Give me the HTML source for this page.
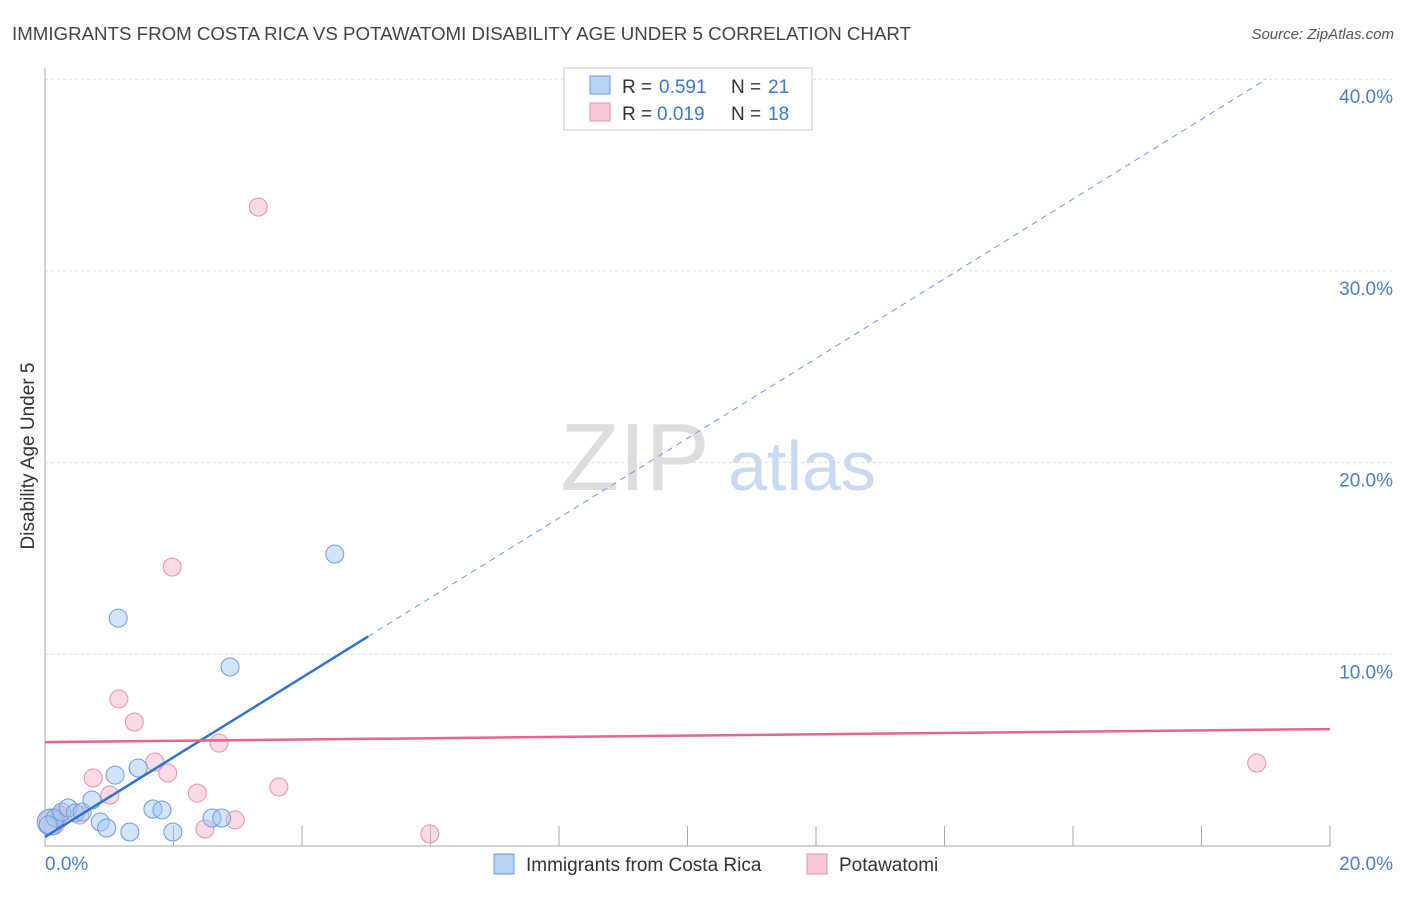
<!DOCTYPE html>
<html><head><meta charset="utf-8"><style>
body{margin:0;background:#fff;font-family:"Liberation Sans",sans-serif}
svg text{font-family:"Liberation Sans",sans-serif}
</style></head><body>
<svg id="c" width="1406" height="892">
<text x="12" y="40" font-size="18" fill="#444" textLength="899" lengthAdjust="spacingAndGlyphs">IMMIGRANTS FROM COSTA RICA VS POTAWATOMI DISABILITY AGE UNDER 5 CORRELATION CHART</text>
<text x="1394" y="39" font-size="15" fill="#555" font-style="italic" text-anchor="end">Source: ZipAtlas.com</text>
<text x="635" y="490" font-size="96" fill="#ddd" font-family="Liberation Serif,serif" text-anchor="middle">ZIP</text>
<text x="802" y="490" font-size="70" fill="#c9daf2" text-anchor="middle">atlas</text>
<text transform="translate(34,456) rotate(-90)" font-size="19" fill="#333" text-anchor="middle">Disability Age Under 5</text>
<g id="grid"></g><g id="marks"></g>
<g>
<rect x="564" y="68" width="248" height="62" fill="#fff" stroke="#ccc"/>
<rect x="590" y="76" width="20" height="18" fill="#b8d3f5" stroke="#6a9ee0"/>
<text y="93" font-size="19" fill="#333"><tspan x="622">R =</tspan><tspan x="659" fill="#3a78d4">0.591</tspan><tspan x="731">N =</tspan><tspan x="768" fill="#3a78d4">21</tspan></text>
<rect x="590" y="103" width="20" height="18" fill="#f9c8d6" stroke="#e890aa"/>
<text y="120" font-size="19" fill="#333"><tspan x="622">R =</tspan><tspan x="657" fill="#3a78d4">0.019</tspan><tspan x="731">N =</tspan><tspan x="768" fill="#3a78d4">18</tspan></text>
</g>
<g>
<rect x="494" y="854" width="20" height="20" fill="#b8d3f5" stroke="#6a9ee0"/>
<text x="526" y="871" font-size="19" fill="#333">Immigrants from Costa Rica</text>
<rect x="807" y="854" width="20" height="20" fill="#f9c8d6" stroke="#e890aa"/>
<text x="839" y="871" font-size="19" fill="#333">Potawatomi</text>
</g>
</svg>
<script>
const yTicks=[10,20,30,40];
const xTickLabels=["0.0%","20.0%"];
const blueX=[0.08,0.16,0.26,0.36,0.47,0.58,0.73,0.86,0.96,1.09,1.32,1.45,1.68,1.82,1.99,2.60,2.75,1.14,2.88,4.51,0.05];
const blueY=[1.25,1.46,1.77,1.98,1.72,1.77,2.40,1.25,0.94,3.70,0.73,4.07,1.93,1.88,0.73,1.46,1.46,11.89,9.34,15.23,1.10];
const pinkX=[0.11,0.23,0.54,0.75,1.01,1.15,1.39,1.71,1.91,1.98,2.37,2.49,2.71,2.96,3.32,3.64,5.99,18.86];
const pinkY=[1.25,1.62,1.62,3.55,2.66,7.67,6.47,4.38,3.81,14.55,2.76,0.89,5.37,1.36,33.33,3.08,0.63,4.33];
const blueFit=[0.47,2.08];
const pinkFit=[5.42,0.034];
const NS="http://www.w3.org/2000/svg";
const sx=v=>45+v*64.25, sy=v=>846-v*19.17;
function mk(t,a,p){const e=document.createElementNS(NS,t);for(const k in a)e.setAttribute(k,a[k]);p.appendChild(e);return e;}
const g=document.getElementById('grid'), m=document.getElementById('marks');
yTicks.forEach(t=>{
 const l=mk('line',{x1:45,x2:1394,y1:sy(t),y2:sy(t),stroke:'#ddd','stroke-dasharray':'3,3'},g);
 
 
 const tx=mk('text',{x:1393,y:sy(t)+24,'font-size':19,fill:'#4a7fd0','text-anchor':'end'},g);
 tx.textContent=t.toFixed(1)+'%';
 
 
});
mk('line',{x1:45,x2:45,y1:68,y2:846,stroke:'#aaa'},g);
mk('line',{x1:45,x2:1330,y1:846,y2:846,stroke:'#aaa'},g);
for(let i=1;i<=10;i++){const t=mk('line',{x1:sx(i*2),x2:sx(i*2),y1:826,y2:846,stroke:'#aaa'},g);
 
 }
xTickLabels.forEach((s,i)=>{const t=mk('text',{x:i?1393:45,y:870,'font-size':19,fill:'#4a7fd0','text-anchor':i?'end':'start'},g);t.textContent=s;
 
 });
pinkX.forEach((x,i)=>{const c=mk('circle',{cx:sx(x),cy:sy(pinkY[i]),r:i==0?13:9,fill:'rgba(245,175,198,0.45)',stroke:'#e890aa','stroke-width':1},m);
 
 });
blueX.forEach((x,i)=>{const c=mk('circle',{cx:sx(x),cy:sy(blueY[i]),r:i==0?13:9,fill:'rgba(160,196,240,0.45)',stroke:'#6a9ee0','stroke-width':1},m);
 
 });
const xe=5.03, yEnd=40.0, xd=(yEnd-blueFit[0])/blueFit[1];
const b1=mk('line',{x1:sx(0),y1:sy(blueFit[0]),x2:sx(xe),y2:sy(blueFit[0]+blueFit[1]*xe),stroke:'#2f72d6','stroke-width':2.5},m);


const b2=mk('line',{x1:sx(xe),y1:sy(blueFit[0]+blueFit[1]*xe),x2:sx(xd),y2:sy(yEnd),stroke:'#6a9ee0','stroke-width':1,'stroke-dasharray':'6,5'},m);


const p1=mk('line',{x1:sx(0),y1:sy(pinkFit[0]),x2:sx(20),y2:sy(pinkFit[0]+pinkFit[1]*20),stroke:'#e5678f','stroke-width':2.5},m);


</script>
</body></html>
